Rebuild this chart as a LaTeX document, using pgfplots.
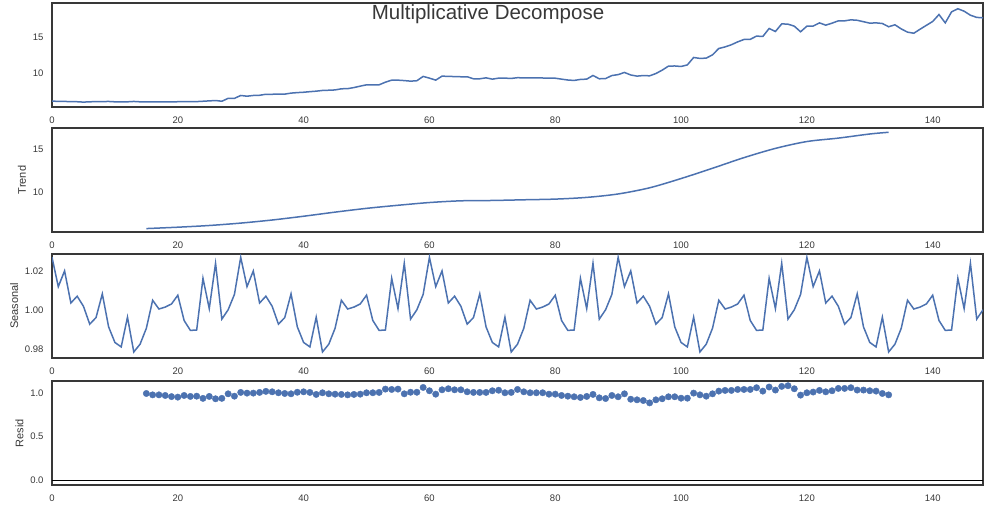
\documentclass[border=0pt]{standalone}
\usepackage{pgfplots}
\pgfplotsset{compat=1.18}
\usepackage{fontspec}
\setmainfont{Liberation Sans}
\definecolor{sbblue}{HTML}{4C72B0}
\definecolor{spine}{HTML}{383838}
\pgfplotsset{every axis/.append style={
  scale only axis, width=931pt, height=104pt, anchor=south west,
  xmin=0, xmax=148, xtick={0,20,...,140},
  axis line style={spine, line width=1.25pt},
  major tick length=0pt,
  tick label style={font=\fontsize{9.5}{11}\selectfont, text=spine},
  label style={font=\fontsize{11}{13}\selectfont, text=spine},
  yticklabel style={xshift=-5pt},
  xticklabel style={yshift=-6.5pt},
  /pgf/number format/assume math mode=true,
  clip=true,
}}
\begin{document}
\begin{tikzpicture}
\path[use as bounding box] (0,0) rectangle (984pt,509pt);
% Observed
\begin{axis}[at={(52pt,402pt)}, ymin=5.25, ymax=19.7, ytick={10,15}]
\addplot[sbblue, line width=1.5pt] table {
0 6.07
1 6.03
2 6.02
3 6.0
4 5.98
5 5.93
6 5.97
7 6.0
8 6.0
9 6.02
10 5.97
11 5.96
12 5.97
13 6.02
14 5.97
15 5.95
16 5.96
17 5.96
18 5.95
19 5.97
20 5.98
21 5.98
22 5.98
23 6.0
24 6.05
25 6.1
26 6.15
27 6.05
28 6.45
29 6.45
30 6.85
31 6.75
32 6.85
33 6.88
34 7.02
35 7.02
36 7.03
37 7.04
38 7.18
39 7.25
40 7.3
41 7.38
42 7.45
43 7.55
44 7.58
45 7.62
46 7.78
47 7.8
48 7.95
49 8.15
50 8.33
51 8.34
52 8.33
53 8.7
54 8.98
55 8.98
56 8.92
57 8.84
58 8.9
59 9.5
60 9.26
61 8.98
62 9.54
63 9.5
64 9.48
65 9.45
66 9.45
67 9.17
68 9.17
69 9.3
70 9.12
71 9.26
72 9.26
73 9.22
74 9.32
75 9.3
76 9.3
77 9.3
78 9.28
79 9.25
80 9.25
81 9.12
82 9.0
83 8.94
84 9.08
85 9.12
86 9.63
87 9.17
88 9.2
89 9.62
90 9.75
91 10.05
92 9.7
93 9.54
94 9.62
95 9.58
96 9.9
97 10.37
98 10.93
99 10.95
100 10.88
101 11.1
102 12.13
103 12.0
104 12.04
105 12.5
106 13.38
107 13.6
108 13.9
109 14.3
110 14.63
111 14.65
112 15.1
113 15.05
114 16.16
115 15.74
116 16.8
117 16.76
118 16.48
119 15.7
120 16.48
121 16.5
122 16.94
123 16.62
124 16.9
125 17.22
126 17.22
127 17.36
128 17.3
129 17.1
130 16.9
131 16.94
132 16.85
133 16.4
134 16.67
135 16.1
136 15.65
137 15.5
138 16.06
139 16.6
140 17.13
141 18.1
142 16.94
143 18.47
144 18.9
145 18.56
146 18.0
147 17.7
148 17.64
};
\end{axis}
% Trend
\begin{axis}[at={(52pt,277pt)}, ymin=5.36, ymax=17.5, ytick={10,15}, ylabel={Trend}]
\addplot[sbblue, line width=1.5pt, smooth] table {
15 5.76
20 5.92
25 6.12
30 6.4
35 6.76
40 7.2
45 7.68
50 8.12
55 8.48
60 8.8
65 9.0
70 9.04
75 9.12
80 9.2
85 9.4
90 9.8
95 10.52
100 11.6
105 12.8
110 14.04
115 15.12
120 15.92
125 16.32
130 16.8
133 17.0
};
\end{axis}
% Seasonal
\begin{axis}[at={(52pt,151pt)}, ymin=0.9755, ymax=1.029, ytick={0.98,1.00,1.02}, ylabel={Seasonal},
  yticklabel style={/pgf/number format/.cd, fixed, fixed zerofill, precision=2}]
\addplot[sbblue, line width=1.5pt] table {
0 1.0273
1 1.0122
2 1.0203
3 1.0038
4 1.0073
5 1.0021
6 0.9929
7 0.9963
8 1.0085
9 0.9915
10 0.9835
11 0.9812
12 0.9965
13 0.9786
14 0.9826
15 0.9908
16 1.0052
17 1.0007
18 1.0017
19 1.0033
20 1.0078
21 0.9948
22 0.9897
23 0.9899
24 1.0165
25 1.0009
26 1.0242
27 0.9955
28 1.0003
29 1.0082
30 1.0273
31 1.0122
32 1.0203
33 1.0038
34 1.0073
35 1.0021
36 0.9929
37 0.9963
38 1.0085
39 0.9915
40 0.9835
41 0.9812
42 0.9965
43 0.9786
44 0.9826
45 0.9908
46 1.0052
47 1.0007
48 1.0017
49 1.0033
50 1.0078
51 0.9948
52 0.9897
53 0.9899
54 1.0165
55 1.0009
56 1.0242
57 0.9955
58 1.0003
59 1.0082
60 1.0273
61 1.0122
62 1.0203
63 1.0038
64 1.0073
65 1.0021
66 0.9929
67 0.9963
68 1.0085
69 0.9915
70 0.9835
71 0.9812
72 0.9965
73 0.9786
74 0.9826
75 0.9908
76 1.0052
77 1.0007
78 1.0017
79 1.0033
80 1.0078
81 0.9948
82 0.9897
83 0.9899
84 1.0165
85 1.0009
86 1.0242
87 0.9955
88 1.0003
89 1.0082
90 1.0273
91 1.0122
92 1.0203
93 1.0038
94 1.0073
95 1.0021
96 0.9929
97 0.9963
98 1.0085
99 0.9915
100 0.9835
101 0.9812
102 0.9965
103 0.9786
104 0.9826
105 0.9908
106 1.0052
107 1.0007
108 1.0017
109 1.0033
110 1.0078
111 0.9948
112 0.9897
113 0.9899
114 1.0165
115 1.0009
116 1.0242
117 0.9955
118 1.0003
119 1.0082
120 1.0273
121 1.0122
122 1.0203
123 1.0038
124 1.0073
125 1.0021
126 0.9929
127 0.9963
128 1.0085
129 0.9915
130 0.9835
131 0.9812
132 0.9965
133 0.9786
134 0.9826
135 0.9908
136 1.0052
137 1.0007
138 1.0017
139 1.0033
140 1.0078
141 0.9948
142 0.9897
143 0.9899
144 1.0165
145 1.0009
146 1.0242
147 0.9955
148 1.0003
};
\end{axis}
% Resid
\begin{axis}[at={(52pt,24pt)}, ymin=-0.054, ymax=1.139, ytick={0,0.5,1}, ylabel={Resid},
  yticklabel style={/pgf/number format/.cd, fixed, fixed zerofill, precision=1}]
\addplot[black, line width=1.5pt] coordinates {(0,0) (148,0)};
\addplot[only marks, mark=*, mark size=3.2pt, mark options={fill=sbblue, draw=sbblue}] table {
15 0.996
16 0.98
17 0.98
18 0.973
19 0.96
20 0.954
21 0.973
22 0.962
23 0.965
24 0.94
25 0.962
26 0.935
27 0.94
28 0.992
29 0.965
30 1.008
31 1.0
32 1.0
33 1.008
34 1.02
35 1.015
36 1.004
37 0.996
38 0.992
39 1.01
40 1.015
41 1.008
42 0.985
43 1.004
44 0.992
45 0.988
46 0.985
47 0.98
48 0.985
49 0.988
50 1.004
51 1.004
52 1.008
53 1.046
54 1.042
55 1.046
56 0.992
57 1.01
58 1.01
59 1.065
60 1.027
61 0.988
62 1.038
63 1.05
64 1.038
65 1.038
66 1.015
67 1.008
68 1.008
69 1.008
70 1.027
71 1.033
72 1.004
73 1.008
74 1.042
75 1.015
76 1.004
77 1.004
78 1.004
79 0.988
80 0.988
81 0.973
82 0.965
83 0.958
84 0.95
85 0.962
86 0.985
87 0.946
88 0.938
89 0.973
90 0.958
91 0.992
92 0.93
93 0.923
94 0.915
95 0.888
96 0.923
97 0.935
98 0.958
99 0.958
100 0.942
101 0.942
102 1.0
103 0.98
104 0.965
105 0.992
106 1.023
107 1.031
108 1.031
109 1.042
110 1.042
111 1.042
112 1.062
113 1.023
114 1.07
115 1.035
116 1.077
117 1.085
118 1.05
119 0.977
120 1.004
121 1.012
122 1.031
123 1.015
124 1.027
125 1.054
126 1.054
127 1.062
128 1.035
129 1.035
130 1.027
131 1.023
132 0.996
133 0.98
};
\end{axis}
\node[font=\fontsize{20.5}{24}\selectfont, text=spine, anchor=base] at (488pt,489pt) {Multiplicative Decompose};
\end{tikzpicture}
\end{document}
